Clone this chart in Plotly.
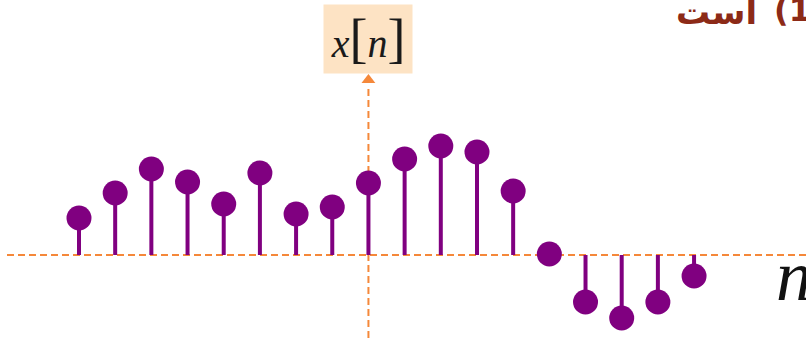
import plotly.graph_objects as go

# discrete signal x[n], n = -8 .. 9
n = list(range(-8, 10))
x_n = [3.7, 6.2, 8.6, 7.3, 5.1, 8.2, 4.1, 4.8, 7.2, 9.6, 10.9, 10.3, 6.4, 0.1,
       -4.7, -6.3, -4.7, -2.1]

W, H = 806, 338
purple = '#800080'
orange = '#F5883A'
red = '#8C2A17'

# stems built from the data: (n, 0) -> (n, x[n])
stem_x, stem_y = [], []
for k, v in zip(n, x_n):
    stem_x += [k, k, None]
    stem_y += [0, v, None]

fig = go.Figure()
fig.add_trace(go.Scatter(x=stem_x, y=stem_y, mode='lines',
                         line=dict(color=purple, width=4),
                         hoverinfo='skip', showlegend=False))
fig.add_trace(go.Scatter(x=n, y=x_n, mode='markers',
                         marker=dict(color=purple, size=25),
                         showlegend=False))
# arrow head on the vertical axis
fig.add_trace(go.Scatter(x=[0], y=[17.5], mode='markers',
                         marker=dict(color=orange, size=12, symbol='triangle-up'),
                         hoverinfo='skip', showlegend=False))

# dashed axes
fig.add_shape(type='line', xref='paper', yref='y', x0=7 / W, x1=1, y0=0, y1=0,
              line=dict(color=orange, width=2, dash='7px,4px'), layer='below')
fig.add_shape(type='line', xref='x', yref='paper', x0=0, x1=0, y0=0, y1=1 - 86 / H,
              line=dict(color=orange, width=2, dash='7px,4px'), layer='below')

# x[n] label box
fig.add_annotation(xref='paper', yref='paper', x=368 / W, y=1 - 39 / H,
                   xanchor='center', yanchor='middle', showarrow=False,
                   width=86, height=66, bgcolor='#FDE3C4',
                   text='<i>x</i><span style="font-size:54px">[</span><i>n</i>'
                        '<span style="font-size:54px">]</span>',
                   font=dict(family='Liberation Serif', size=40, color='#1a1a1a'))

# n label at the right end of the horizontal axis
fig.add_annotation(xref='paper', yref='paper', x=774 / W, y=1 - 276 / H,
                   xanchor='left', yanchor='middle', showarrow=False,
                   text='<i>n</i>',
                   font=dict(family='Liberation Serif', size=72, color='#111111'))

# clipped persian text at the top right (two pieces to keep the order fixed)
fig.add_annotation(xref='paper', yref='paper', x=759 / W, y=1 - 12 / H,
                   xanchor='right', yanchor='middle', showarrow=False,
                   text='<b>است</b>',
                   font=dict(family='DejaVu Sans', size=34, color=red))
fig.add_annotation(xref='paper', yref='paper', x=772 / W, y=1 - 10 / H,
                   xanchor='left', yanchor='middle', showarrow=False,
                   text='<b>(1)</b>',
                   font=dict(family='DejaVu Sans', size=32, color=red))

x0 = -8 - 79 / 36.18
x1 = x0 + W / 36.18
fig.update_layout(width=W, height=H, margin=dict(l=0, r=0, t=0, b=0),
                  paper_bgcolor='white', plot_bgcolor='white',
                  xaxis=dict(range=[x0, x1], visible=False),
                  yaxis=dict(range=[-8.3, 25.5], visible=False))

fig.write_html('out.html', config={'displayModeBar': False},
               post_script="document.body.style.margin='0';")
